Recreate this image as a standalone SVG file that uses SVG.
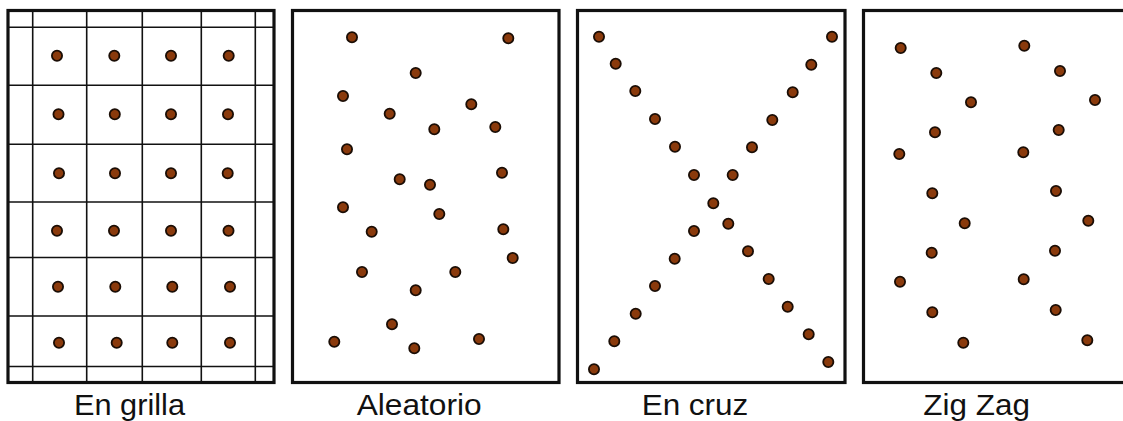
<svg xmlns="http://www.w3.org/2000/svg" width="1123" height="421" viewBox="0 0 1123 421">
<style>
.frame{fill:none;stroke:#111;stroke-width:3.2}
.grid{stroke:#111;stroke-width:1.6}
.dot{fill:#8a3a0c;stroke:#1a0d05;stroke-width:1.8}
.lbl{font-family:"Liberation Sans",Arial,sans-serif;font-size:30px;fill:#111;text-anchor:middle}
</style>
<rect width="1123" height="421" fill="#fff"/>
<defs><circle id="d" r="5.1" class="dot"/></defs>

<g id="grilla">
<g class="grid">
<line x1="32.7" y1="10" x2="32.7" y2="383"/>
<line x1="86.7" y1="10" x2="86.7" y2="383"/>
<line x1="142.3" y1="10" x2="142.3" y2="383"/>
<line x1="201.3" y1="10" x2="201.3" y2="383"/>
<line x1="255.3" y1="10" x2="255.3" y2="383"/>
<line x1="8" y1="27.3" x2="274" y2="27.3"/>
<line x1="8" y1="85.3" x2="274" y2="85.3"/>
<line x1="8" y1="144.3" x2="274" y2="144.3"/>
<line x1="8" y1="202" x2="274" y2="202"/>
<line x1="8" y1="257.5" x2="274" y2="257.5"/>
<line x1="8" y1="316" x2="274" y2="316"/>
<line x1="8" y1="366.5" x2="274" y2="366.5"/>
</g>
<rect class="frame" x="8" y="10.5" width="266" height="372"/>
<use href="#d" x="57" y="55.7"/><use href="#d" x="114.3" y="55.7"/><use href="#d" x="171" y="55.7"/><use href="#d" x="228.7" y="55.7"/>
<use href="#d" x="58.5" y="114.3"/><use href="#d" x="114.8" y="114.3"/><use href="#d" x="171" y="114.3"/><use href="#d" x="228" y="114.3"/>
<use href="#d" x="59" y="173.3"/><use href="#d" x="115" y="173.3"/><use href="#d" x="171" y="173.3"/><use href="#d" x="227.7" y="173.3"/>
<use href="#d" x="57" y="230.7"/><use href="#d" x="114" y="230.7"/><use href="#d" x="171" y="230.7"/><use href="#d" x="228.5" y="230.7"/>
<use href="#d" x="58" y="286.7"/><use href="#d" x="115.3" y="286.7"/><use href="#d" x="172.3" y="286.7"/><use href="#d" x="230" y="286.7"/>
<use href="#d" x="59" y="342.7"/><use href="#d" x="116.7" y="342.7"/><use href="#d" x="172.3" y="342.7"/><use href="#d" x="230" y="342.7"/>
<text class="lbl" x="129.5" y="415" textLength="111" lengthAdjust="spacingAndGlyphs">En grilla</text>
</g>

<g id="aleatorio">
<rect class="frame" x="292.5" y="10.5" width="266.5" height="372"/>
<use href="#d" x="352" y="37.3"/><use href="#d" x="508.3" y="38.3"/><use href="#d" x="415.7" y="73"/>
<use href="#d" x="343" y="96"/><use href="#d" x="471.3" y="104.3"/><use href="#d" x="389.7" y="113.7"/>
<use href="#d" x="434.3" y="129.3"/><use href="#d" x="495.3" y="127"/><use href="#d" x="347" y="149.3"/>
<use href="#d" x="502" y="172.7"/><use href="#d" x="399.7" y="179.3"/><use href="#d" x="430" y="184.7"/>
<use href="#d" x="343" y="207.3"/><use href="#d" x="439.3" y="214"/><use href="#d" x="371.7" y="231.7"/>
<use href="#d" x="503.3" y="229.3"/><use href="#d" x="512.7" y="258"/><use href="#d" x="362" y="272"/>
<use href="#d" x="455.3" y="272"/><use href="#d" x="415.7" y="290.3"/><use href="#d" x="392" y="324.3"/>
<use href="#d" x="334.3" y="341.7"/><use href="#d" x="414.3" y="348.3"/><use href="#d" x="479" y="339"/>
<text class="lbl" x="419.2" y="415" textLength="125" lengthAdjust="spacingAndGlyphs">Aleatorio</text>
</g>

<g id="cruz">
<rect class="frame" x="577.5" y="10.5" width="267.5" height="372"/>
<use href="#d" x="599" y="36.7"/><use href="#d" x="615.7" y="63.7"/><use href="#d" x="635.3" y="91"/>
<use href="#d" x="655" y="119"/><use href="#d" x="675" y="146.7"/><use href="#d" x="694" y="175"/>
<use href="#d" x="732.7" y="175"/><use href="#d" x="752" y="147.3"/><use href="#d" x="772.3" y="120"/>
<use href="#d" x="792.7" y="92.3"/><use href="#d" x="811.3" y="64.7"/><use href="#d" x="832" y="36.7"/>
<use href="#d" x="713.3" y="203.3"/><use href="#d" x="728.3" y="223.7"/><use href="#d" x="694" y="231"/>
<use href="#d" x="674.7" y="258.7"/><use href="#d" x="655" y="286"/><use href="#d" x="635.7" y="313.7"/>
<use href="#d" x="614.3" y="341.3"/><use href="#d" x="594" y="369.3"/><use href="#d" x="748" y="251.3"/>
<use href="#d" x="768.7" y="279"/><use href="#d" x="787.7" y="306.7"/><use href="#d" x="808.7" y="334.3"/>
<use href="#d" x="828.3" y="362"/>
<text class="lbl" x="695" y="415" textLength="106.7" lengthAdjust="spacingAndGlyphs">En cruz</text>
</g>

<g id="zigzag">
<rect class="frame" x="863.5" y="10.5" width="270" height="372"/>
<use href="#d" x="900.7" y="48"/><use href="#d" x="1024.3" y="45.7"/><use href="#d" x="936.3" y="73"/>
<use href="#d" x="1060" y="71"/><use href="#d" x="971" y="102.3"/><use href="#d" x="1095" y="100"/>
<use href="#d" x="935" y="132.3"/><use href="#d" x="1058.7" y="130"/><use href="#d" x="899.3" y="154"/>
<use href="#d" x="1023.3" y="152.3"/><use href="#d" x="932.3" y="193.3"/><use href="#d" x="1056" y="191"/>
<use href="#d" x="964.7" y="223.3"/><use href="#d" x="1088.3" y="220.7"/><use href="#d" x="931.7" y="252.7"/>
<use href="#d" x="1055" y="250.7"/><use href="#d" x="900" y="281.7"/><use href="#d" x="1023.7" y="279.3"/>
<use href="#d" x="932.3" y="312.3"/><use href="#d" x="1055.7" y="310"/><use href="#d" x="963.3" y="342.7"/>
<use href="#d" x="1087.3" y="340.3"/>
<text class="lbl" x="976.7" y="415" textLength="106.7" lengthAdjust="spacingAndGlyphs">Zig Zag</text>
</g>
</svg>
